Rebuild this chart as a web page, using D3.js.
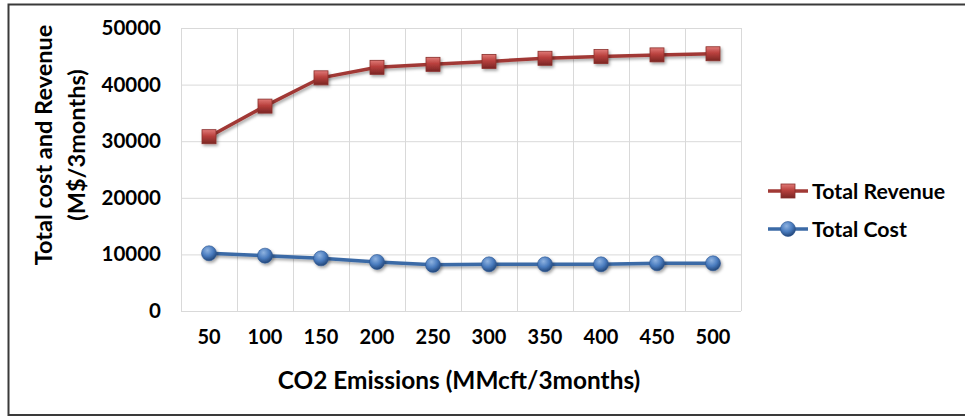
<!DOCTYPE html>
<html>
<head>
<meta charset="utf-8">
<script src="https://cdn.jsdelivr.net/npm/d3@7"></script>
<style>
  html, body { margin: 0; padding: 0; background: #fff; }
  svg { display: block; }
  text { font-family: Lato, "Open Sans", sans-serif; font-weight: bold; fill: #000; }
</style>
</head>
<body>
<svg id="chart" width="965" height="418"></svg>
<script>
// CO2 emission levels (MMcft per 3 months)
const categories = ["50", "100", "150", "200", "250", "300", "350", "400", "450", "500"];
// Total revenue, M$ per 3 months
const revenue = [30800, 36200, 41200, 43050, 43580, 44100, 44650, 44950, 45250, 45450];
// Total cost, M$ per 3 months
const cost = [10200, 9780, 9300, 8660, 8150, 8250, 8250, 8250, 8430, 8430];
const yTicks = [0, 10000, 20000, 30000, 40000, 50000];
const seriesNames = ["Total Revenue", "Total Cost"];

const svg = d3.select("#chart");
const plot = { left: 181, right: 741, top: 28, bottom: 311 };

// outer frame
svg.append("rect")
  .attr("x", 8.5).attr("y", 4.5).attr("width", 970).attr("height", 410.5)
  .attr("fill", "none").attr("stroke", "#3a3a3a").attr("stroke-width", 2);

const x = d3.scaleBand().domain(categories).range([plot.left, plot.right]);
const y = d3.scaleLinear().domain([0, 50000]).range([plot.bottom, plot.top]);

// gradients and shadow for the 3D-looking markers
const defs = svg.append("defs");
const rg = defs.append("radialGradient").attr("id", "gBlue")
  .attr("cx", "40%").attr("cy", "30%").attr("r", "70%");
rg.append("stop").attr("offset", "0%").attr("stop-color", "#8fb3e0");
rg.append("stop").attr("offset", "55%").attr("stop-color", "#4a7cbf");
rg.append("stop").attr("offset", "100%").attr("stop-color", "#23477a");
const sq = defs.append("linearGradient").attr("id", "gRed")
  .attr("x1", "0").attr("y1", "0").attr("x2", "0").attr("y2", "1");
sq.append("stop").attr("offset", "0%").attr("stop-color", "#e07a77");
sq.append("stop").attr("offset", "45%").attr("stop-color", "#b9403d");
sq.append("stop").attr("offset", "100%").attr("stop-color", "#7a2624");
const f = defs.append("filter").attr("id", "shadow")
  .attr("x", "-50%").attr("y", "-50%").attr("width", "200%").attr("height", "200%");
f.append("feDropShadow").attr("dx", 1.5).attr("dy", 2).attr("stdDeviation", 1.5)
  .attr("flood-color", "#000").attr("flood-opacity", 0.35);

// grid
const grid = svg.append("g");
grid.selectAll("line.h").data(yTicks).join("line")
  .attr("x1", plot.left).attr("x2", plot.right)
  .attr("y1", d => y(d) + 0.5).attr("y2", d => y(d) + 0.5)
  .attr("stroke", "#d9d9d9").attr("stroke-width", 1);
const vLines = categories.map(c => x(c)).concat([plot.right]);
grid.selectAll("line.v").data(vLines).join("line")
  .attr("x1", d => d + 0.5).attr("x2", d => d + 0.5)
  .attr("y1", plot.top).attr("y2", plot.bottom)
  .attr("stroke", "#d9d9d9").attr("stroke-width", 1);

// y axis labels
const yAxis = d3.axisLeft(y).tickValues(yTicks).tickSize(0).tickPadding(0).tickFormat(d3.format("d"));
svg.append("g").attr("transform", `translate(161,0)`).call(yAxis)
  .call(g => g.select(".domain").remove())
  .selectAll("text").attr("font-size", 20.5).attr("font-family", "Lato, sans-serif").attr("font-weight", "bold").attr("fill", "#000");

// x axis labels
const xAxis = d3.axisBottom(x).tickSize(0).tickPadding(0);
svg.append("g").attr("transform", `translate(0,${plot.bottom + 19})`).call(xAxis)
  .call(g => g.select(".domain").remove())
  .selectAll("text").attr("font-size", 20).attr("font-family", "Lato, sans-serif").attr("font-weight", "bold").attr("fill", "#000");

// axis titles
svg.append("text").attr("x", 459).attr("y", 389).attr("text-anchor", "middle")
  .attr("font-size", 24.4).text("CO2 Emissions (MMcft/3months)");
const yt = svg.append("text").attr("transform", "translate(0,145) rotate(-90)").attr("text-anchor", "middle").attr("font-size", 23.5);
yt.append("tspan").attr("x", 0).attr("y", 52).text("Total cost and Revenue");
yt.append("tspan").attr("x", 0).attr("y", 85).text("(M$/3months)");

const cx = c => x(c) + x.bandwidth() / 2;
const line = d3.line().x((d, i) => cx(categories[i])).y(d => y(d));

// Total Revenue
svg.append("path").datum(revenue).attr("d", line)
  .attr("fill", "none").attr("stroke", "#a13935").attr("stroke-width", 3.5)
  .attr("filter", "url(#shadow)");
svg.append("g").selectAll("rect").data(revenue).join("rect")
  .attr("x", (d, i) => cx(categories[i]) - 7).attr("y", d => y(d) - 7)
  .attr("width", 14).attr("height", 14)
  .attr("fill", "url(#gRed)").attr("stroke", "#8a2e2b").attr("stroke-width", 0.8)
  .attr("filter", "url(#shadow)");

// Total Cost
svg.append("path").datum(cost).attr("d", line)
  .attr("fill", "none").attr("stroke", "#3b6aa6").attr("stroke-width", 3.5)
  .attr("filter", "url(#shadow)");
svg.append("g").selectAll("circle").data(cost).join("circle")
  .attr("cx", (d, i) => cx(categories[i])).attr("cy", d => y(d)).attr("r", 7.5)
  .attr("fill", "url(#gBlue)").attr("stroke", "#2c5590").attr("stroke-width", 0.6)
  .attr("filter", "url(#shadow)");

// legend
const legend = svg.append("g");
const legendY = [191, 229];
const colors = ["#a13935", "#3b6aa6"];
seriesNames.forEach((name, i) => {
  const g = legend.append("g").attr("transform", `translate(0,${legendY[i]})`);
  g.append("line").attr("x1", 768).attr("x2", 808).attr("y1", 0).attr("y2", 0)
    .attr("stroke", colors[i]).attr("stroke-width", 3.5);
  if (i === 0) {
    g.append("rect").attr("x", 781).attr("y", -7).attr("width", 14).attr("height", 14)
      .attr("fill", "url(#gRed)").attr("stroke", "#8a2e2b").attr("stroke-width", 0.8);
  } else {
    g.append("circle").attr("cx", 788).attr("cy", 0).attr("r", 7.5)
      .attr("fill", "url(#gBlue)").attr("stroke", "#2c5590").attr("stroke-width", 0.6);
  }
  g.append("text").attr("x", 812).attr("y", 0).attr("dy", "0.36em")
    .attr("font-size", 21.3).text(name);
});
</script>
</body>
</html>
